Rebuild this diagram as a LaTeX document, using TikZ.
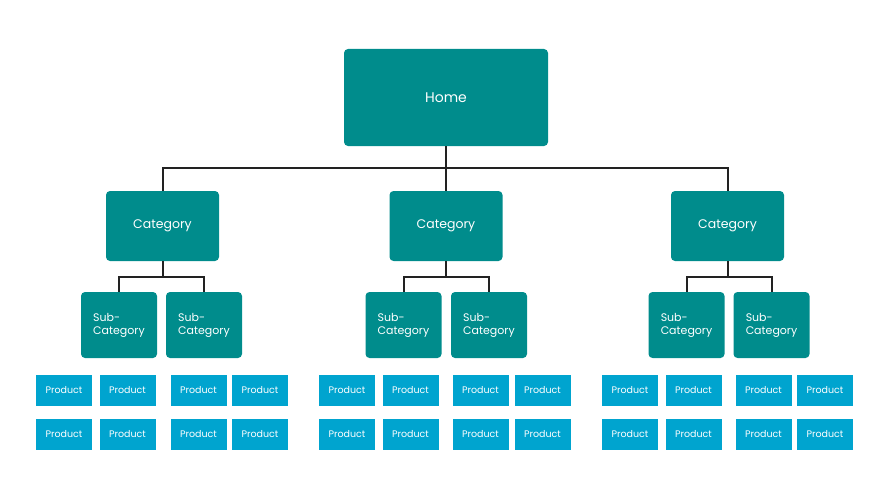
\documentclass[tikz,border=0pt]{standalone}
\usepackage{fontspec}
\setmainfont{Poppins}
\usetikzlibrary{positioning}

\definecolor{teal}{HTML}{008C8C}
\definecolor{prodblue}{HTML}{00A4CF}
\definecolor{wire}{HTML}{222222}

\begin{document}
\begin{tikzpicture}[x=1pt, y=-1pt]

\tikzset{box/.style = {fill=teal, rounded corners=4pt, text=white, inner sep=0pt}}
\tikzset{home/.style = {box, minimum width=204pt, minimum height=97pt, font=\fontsize{14}{16}\selectfont}}
\tikzset{cat/.style = {box, minimum width=113pt, minimum height=70pt, font=\fontsize{12.5}{15}\selectfont}}
\tikzset{subcat/.style = {box, minimum width=76pt, minimum height=66pt, align=left, font=\fontsize{11}{13}\selectfont}}
\tikzset{prod/.style = {fill=prodblue, text=white, minimum width=56pt, minimum height=31pt, inner sep=0pt, font=\fontsize{9.5}{11}\selectfont}}
\tikzset{link/.style = {draw=wire, line width=2pt}}

\useasboundingbox (0,0) rectangle (890,500);

%home
\node[home] (home) at (446,97.5) {Home};
%categories
\node[cat] (c1) at (162.5,226) {Category};
\node[cat] (c2) at (446,226) {Category};
\node[cat] (c3) at (727.5,226) {Category};
%sub-categories
\node[subcat] (s11) at (119,325) {Sub-\\Category};
\node[subcat] (s12) at (204,325) {Sub-\\Category};
\node[subcat] (s21) at (403.5,325) {Sub-\\Category};
\node[subcat] (s22) at (489,325) {Sub-\\Category};
\node[subcat] (s31) at (686.5,325) {Sub-\\Category};
\node[subcat] (s32) at (771.5,325) {Sub-\\Category};
%products
\foreach \px [count=\i] in {64,127.5,198.5,260,347,410.5,480.5,542.5,630,693.5,763.5,825} {
  \node[prod] (p\i a) at (\px,390.5) {Product};
  \node[prod] (p\i b) at (\px,434.5) {Product};
}
%edges
\coordinate (hbus) at (446,168);
\draw[link] (home.south) -- (hbus) -- (c2.north);
\draw[link] (c1.north) |- (hbus) -| (c3.north);
\foreach \c in {1,2,3} {
  \coordinate (cbus\c) at ([yshift=-16pt]c\c.south);
  \draw[link] (c\c.south) -- (cbus\c);
  \draw[link] (s\c1.north) |- (cbus\c) -| (s\c2.north);
}

\end{tikzpicture}
\end{document}
